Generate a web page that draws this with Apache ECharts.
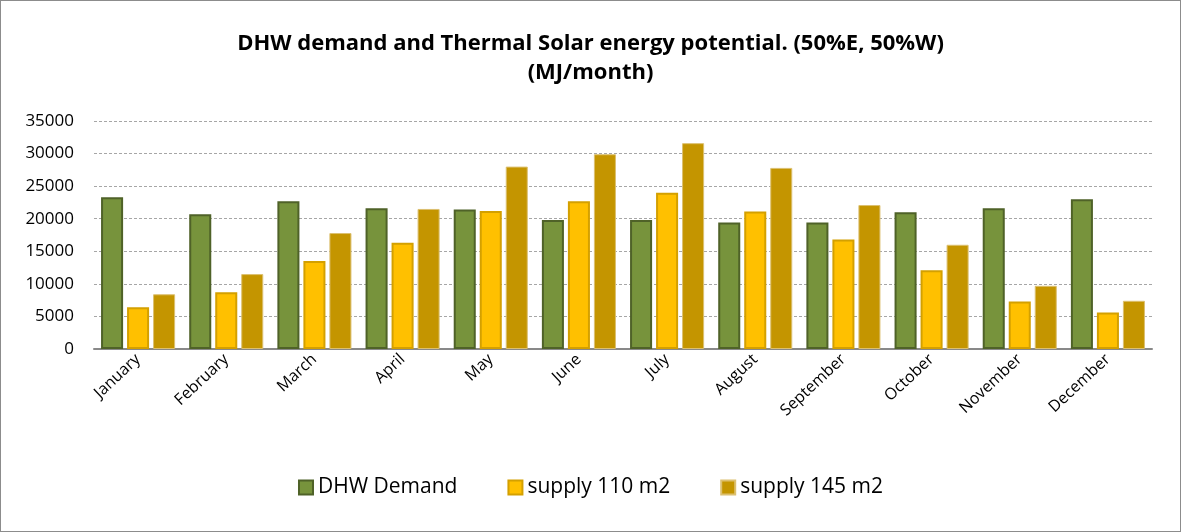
<!DOCTYPE html>
<html><head><meta charset="utf-8">
<script src="https://cdn.jsdelivr.net/npm/echarts@6/dist/echarts.min.js"></script>
<style>
html,body{margin:0;padding:0;background:#fff;}
#wrap{position:absolute;left:0;top:0;width:1179px;height:530px;border:1px solid #8c8c8c;}
#c{width:1179px;height:530px;}
</style></head><body>
<div id="wrap"><div id="c"></div></div>
<script>
const months = ['January','February','March','April','May','June','July','August','September','October','November','December'];
const dhwDemand = [23300,20700,22700,21600,21400,19800,19800,19400,19400,21000,21600,23000];
const supply110 = [6400,8700,13500,16300,21200,22700,24000,21100,16800,12100,7300,5600];
const supply145 = [8400,11500,17800,21500,28000,29900,31600,27800,22100,16000,9700,7400];
const seriesNames = ['DHW Demand','supply 110 m2','supply 145 m2'];
const yTicks = {min:0,max:35000,interval:5000};

const font = 'Open Sans, Noto Sans, sans-serif';
const chart = echarts.init(document.getElementById('c'));
chart.setOption({
  animation:false,
  title:{text:'DHW demand and Thermal Solar energy potential. (50%E, 50%W)\n(MJ/month)',left:'center',top:23,
    textStyle:{fontFamily:font,fontSize:22,fontWeight:'bold',color:'#000',lineHeight:29}},
  grid:{left:93,right:28,top:120,bottom:182,containLabel:false},
  legend:{bottom:28,left:'center',itemWidth:14,itemHeight:14,itemGap:50,icon:'rect',
    textStyle:{fontFamily:font,fontSize:21,color:'#000'},
    data:seriesNames},
  xAxis:{type:'category',data:months,
    axisLine:{lineStyle:{color:'#898989',width:2}},axisTick:{show:false},
    axisLabel:{rotate:43,fontFamily:font,fontSize:16,color:'#000',margin:8,interval:0}},
  yAxis:{type:'value',min:yTicks.min,max:yTicks.max,interval:yTicks.interval,
    axisLine:{show:false},axisTick:{show:false},
    splitLine:{lineStyle:{color:'#a6a6a6',type:[3,2],width:1}},
    axisLabel:{fontFamily:font,fontSize:17,color:'#000',margin:20,formatter:v=>String(v)}},
  series:[
    {name:seriesNames[0],type:'bar',data:dhwDemand,barGap:'18%',barCategoryGap:'16%',
      itemStyle:{color:'#77933c',borderColor:'#4f6228',borderWidth:2}},
    {name:seriesNames[1],type:'bar',data:supply110,barGap:'18%',barCategoryGap:'16%',
      itemStyle:{color:'#ffc000',borderColor:'#d4a000',borderWidth:2}},
    {name:seriesNames[2],type:'bar',data:supply145,barGap:'18%',barCategoryGap:'16%',
      itemStyle:{color:'#c49500',borderColor:'#dcc070',borderWidth:1}}
  ]
});
</script></body></html>
